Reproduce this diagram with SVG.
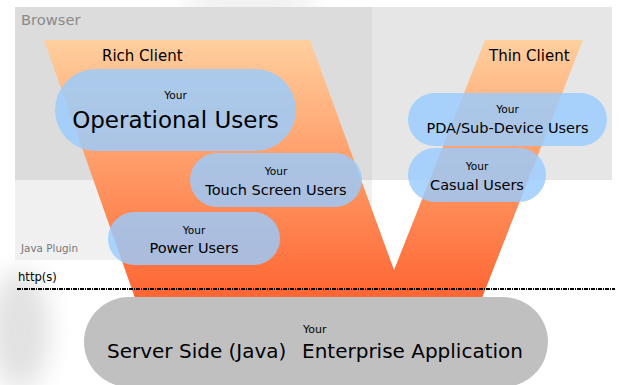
<svg xmlns="http://www.w3.org/2000/svg" width="619" height="385" viewBox="0 0 619 385">
<style>
text{font-family:"DejaVu Sans","Verdana",sans-serif;fill:#000}
.pill{fill:#99ccff;fill-opacity:0.82}
.your{font-size:10.6px;text-anchor:middle}
.mid{font-size:14.5px;text-anchor:middle}
.lbl{font-size:15px}
</style>
<defs>
<linearGradient id="vg" x1="0" y1="40" x2="0" y2="297" gradientUnits="userSpaceOnUse">
<stop offset="0" stop-color="#ffcf9e"/>
<stop offset="0.5" stop-color="#ff9a66"/>
<stop offset="1" stop-color="#ff6633"/>
</linearGradient>
<filter id="blur" x="-50%" y="-50%" width="200%" height="200%"><feGaussianBlur stdDeviation="12"/></filter>
</defs>
<rect width="619" height="385" fill="#ffffff"/>
<g id="shadows" filter="url(#blur)" fill="#e2e2e2">
<ellipse cx="20" cy="330" rx="30" ry="60"/>
<ellipse cx="250" cy="2" rx="70" ry="8"/>
</g>
<g id="browser">
<rect x="15" y="7" width="357" height="173" fill="#dcdcdc"/>
<rect x="372" y="7" width="240" height="173" fill="#e6e6e6"/>
<text x="21" y="25" font-size="14.7" style="fill:#8a8a8a">Browser</text>
</g>
<g id="java-plugin">
<rect x="15" y="180" width="357" height="80" fill="#f0f0f0"/>
<text x="21" y="252" font-size="10.4" style="fill:#777">Java Plugin</text>
</g>
<g id="v-shape">
<polygon points="44,40 310,40 394,270 485,40 583,40 482,298 135,298" fill="url(#vg)"/>
<text class="lbl" x="102" y="61">Rich Client</text>
<text class="lbl" x="489" y="61">Thin Client</text>
</g>
<g id="connectors">
<line x1="17" y1="289" x2="615" y2="289" stroke="#000" stroke-width="2" stroke-dasharray="4 1 1 1"/>
<text x="18" y="281" font-size="11.6">http(s)</text>
</g>
<g id="operational-users">
<rect class="pill" x="55" y="69" width="241" height="82" rx="41"/>
<text class="your" x="175.5" y="99">Your</text>
<text x="175.5" y="128" font-size="23" text-anchor="middle">Operational Users</text>
</g>
<g id="touch-screen-users">
<rect class="pill" x="190" y="153" width="172" height="54" rx="27"/>
<text class="your" x="276" y="175">Your</text>
<text class="mid" x="276" y="195">Touch Screen Users</text>
</g>
<g id="power-users">
<rect class="pill" x="108" y="212" width="172" height="53" rx="26.5"/>
<text class="your" x="194" y="234">Your</text>
<text class="mid" x="194" y="253">Power Users</text>
</g>
<g id="pda-users">
<rect class="pill" x="408" y="93" width="199" height="53" rx="26.5"/>
<text class="your" x="507.5" y="113">Your</text>
<text class="mid" x="507.5" y="133">PDA/Sub-Device Users</text>
</g>
<g id="casual-users">
<rect class="pill" x="408" y="148" width="138" height="54" rx="27"/>
<text class="your" x="477" y="170">Your</text>
<text class="mid" x="477" y="190">Casual Users</text>
</g>
<g id="server">
<rect x="84" y="297" width="464" height="90" rx="45" fill="#c0c0c0"/>
<text x="303" y="333" font-size="11">Your</text>
<text x="107" y="358" font-size="20">Server Side (Java)</text>
<text x="302" y="358" font-size="20">Enterprise Application</text>
</g>
</svg>
